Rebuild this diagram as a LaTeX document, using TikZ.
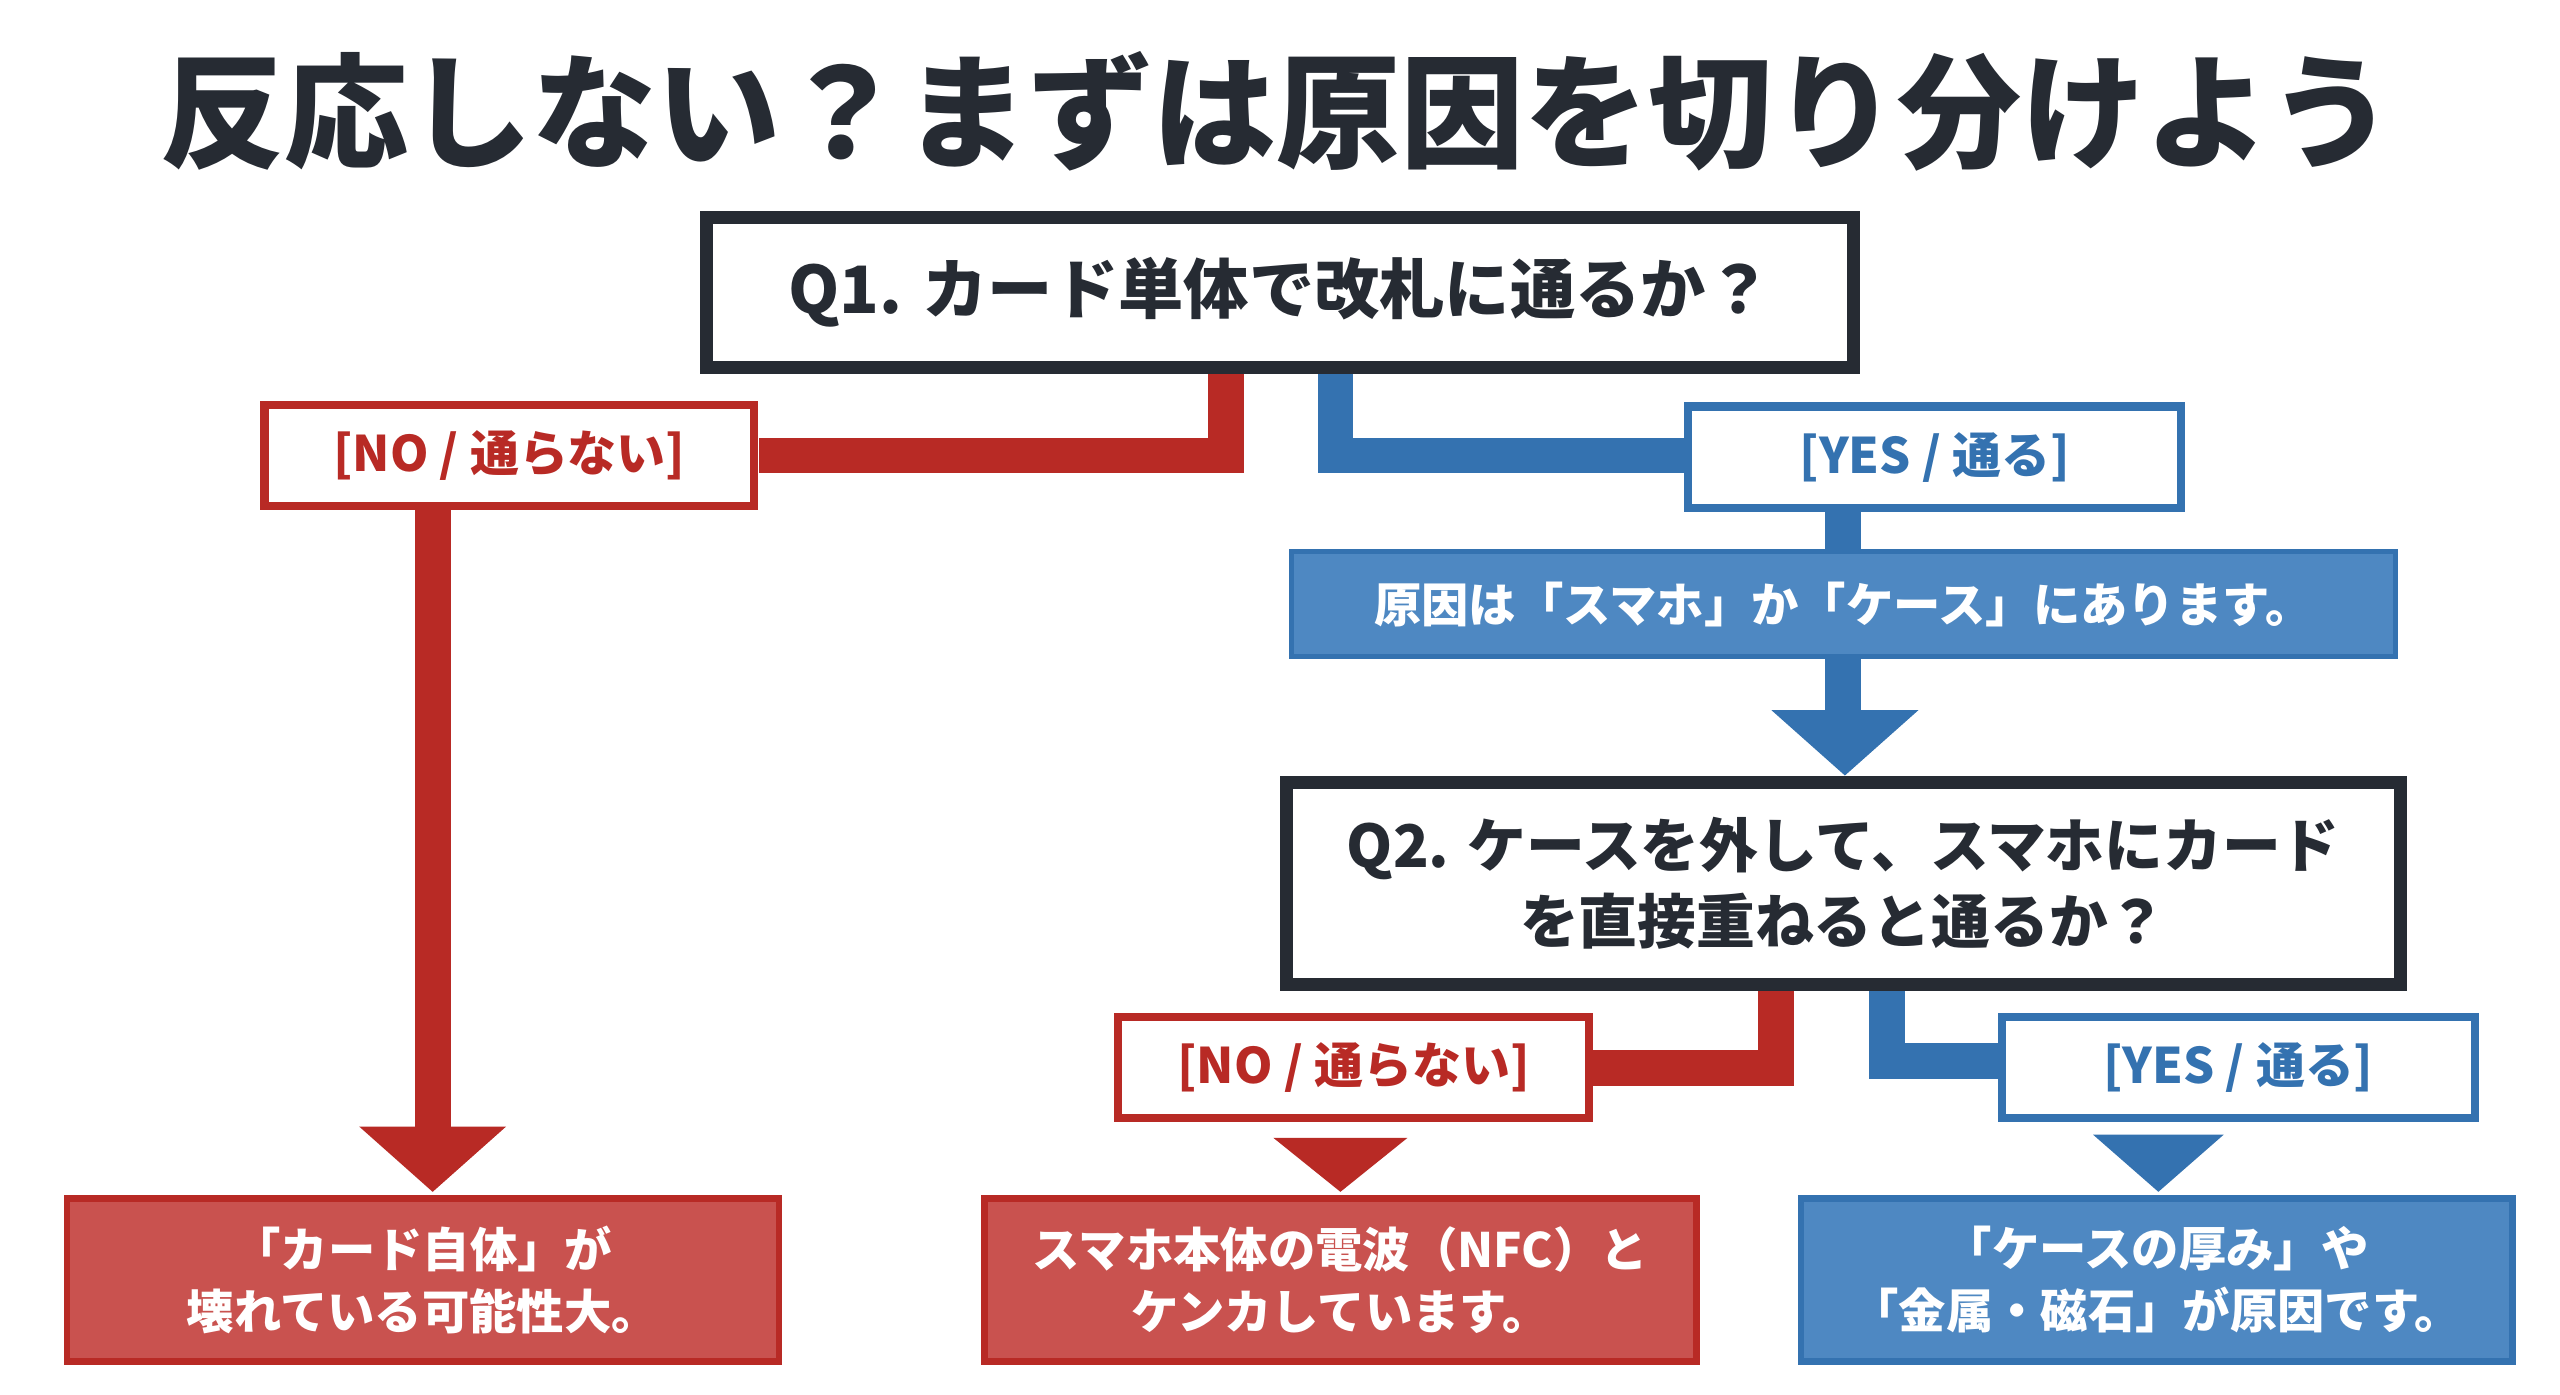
\documentclass[tikz,border=0pt]{standalone}
\usepackage{fontspec}
\setmainfont{Noto Sans CJK JP}
\definecolor{dk}{HTML}{262B33}
\definecolor{rd}{HTML}{B82A25}
\definecolor{rdf}{HTML}{C9524F}
\definecolor{bl}{HTML}{3472B0}
\definecolor{blf}{HTML}{4E88C2}
\begin{document}
\begin{tikzpicture}[x=0.5pt,y=-0.5pt,
 q/.style={draw=dk,line width=4pt,fill=white,text=dk,font=\bfseries\fontsize{20}{25}\selectfont,align=center},
 lab/.style={draw=#1,line width=2.5pt,fill=white,text=#1,font=\bfseries\fontsize{15}{18}\selectfont},
 res/.style={draw=#1,line width=2pt,fill=#1!70!white,text=white,font=\bfseries\fontsize{14.5}{19}\selectfont,align=center},
 band/.style={line width=11pt,draw=#1,line join=miter},
 tri/.style={fill=#1}]
\fill[white] (0,0) rectangle (1568,854);
\node[text=dk,font=\bfseries\fontsize{38}{40}\selectfont] (title) at (782,68) {反応しない？まずは原因を切り分けよう};
% connectors first
\draw[band=rd] (751,225) -- (751,279) -- (465,279);
\draw[band=bl] (818,225) -- (818,279) -- (1035,279);
\draw[band=rd] (265,312) -- (265,692);
\fill[rd] (220,690) -- (310,690) -- (265,730) -- cycle;
\draw[band=bl] (1129,312) -- (1129,340);
\draw[band=bl] (1129,403) -- (1129,437);
\fill[bl] (1085,435) -- (1175,435) -- (1130,475) -- cycle;
\draw[band=rd] (1088,605) -- (1088,654) -- (975,654);
\draw[band=bl] (1156,605) -- (1156,650) -- (1225,650);
\fill[rd] (780,697) -- (862,697) -- (821,730) -- cycle;
\fill[bl] (1282,695) -- (1362,695) -- (1322,730) -- cycle;
% nodes
\node[q,minimum width=351pt,minimum height=46pt] (q1) at (784,179) {Q1. カード単体で改札に通るか？};
\node[lab=rd,minimum width=150pt,minimum height=31pt] (no1) at (312,279) {[NO / 通らない]};
\node[lab=bl,minimum width=151pt,minimum height=31pt] (yes1) at (1185,280) {[YES / 通る]};
\node[draw=bl,line width=1.5pt,fill=blf,text=white,font=\bfseries\fontsize{14.5}{18}\selectfont,minimum width=338pt,minimum height=32pt] (cause) at (1129,370) {原因は「スマホ」か「ケース」にあります。};
\node[q,minimum width=341pt,minimum height=62pt,font=\bfseries\fontsize{18}{23}\selectfont] (q2) at (1129,541) {Q2. ケースを外して、スマホにカード\\を直接重ねると通るか？};
\node[lab=rd,minimum width=144pt,minimum height=31pt] (no2) at (829,654) {[NO / 通らない]};
\node[lab=bl,minimum width=145pt,minimum height=31pt] (yes2) at (1371,654) {[YES / 通る]};
\node[res=rd,draw=rd,fill=rdf,minimum width=218pt,minimum height=50pt] (r1) at (259,784) {「カード自体」が\\壊れている可能性大。};
\node[res=rd,draw=rd,fill=rdf,minimum width=218pt,minimum height=50pt] (r2) at (821,784) {スマホ本体の電波（NFC）と\\ケンカしています。};
\node[res=bl,draw=bl,fill=blf,minimum width=218pt,minimum height=50pt] (r3) at (1321,784) {「ケースの厚み」や\\「金属・磁石」が原因です。};
\end{tikzpicture}
\end{document}
